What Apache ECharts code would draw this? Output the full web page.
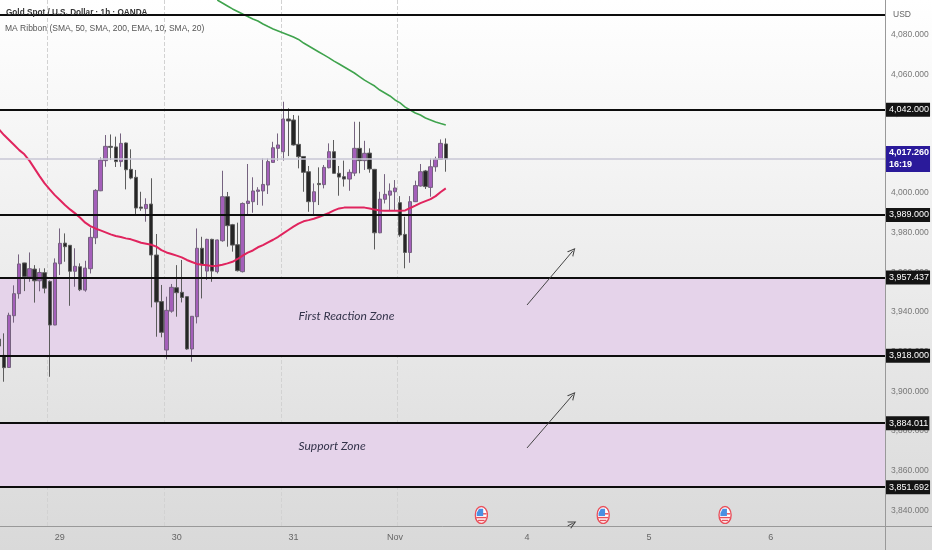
<!DOCTYPE html>
<html><head><meta charset="utf-8">
<style>html,body{margin:0;padding:0;background:#fff}#c{width:932px;height:550px}</style>
<script src="https://cdn.jsdelivr.net/npm/echarts@6/dist/echarts.min.js"></script>
</head><body><div id="c"></div>
<script>
const opens=[3926.4,3918.2,3912.1,3938.2,3949.3,3964.8,3957.7,3961.7,3955.8,3959.9,3955.5,3933.5,3964.4,3974.8,3973.7,3960.6,3962.9,3951.1,3961.9,3977.5,4001.2,4016.4,4023.6,4023.3,4015.9,4025.3,4012,4008,3993,3992.2,3994.5,3968.8,3945.3,3920.9,3940.5,3952.3,3950,3947.8,3921.4,3937.7,3972.2,3960.7,3976.7,3960.4,3976,3998.2,3984.1,3974,3960.4,3994.8,3995.7,4000.9,4001.1,4004.1,4015.5,4022.6,4020.9,4037.4,4036.9,4024.6,4018.5,4010.8,3995.7,4004.9,4004.3,4012.8,4020.9,4010,4008.3,4007.1,4010.1,4022.6,4016.4,4020.2,4012,3980,3996.9,3999,4000.7,3995.2,3979.2,3970.1,3995.7,4003.6,4011.2,4002.9,4013.3,4017,4024.8];
const closes=[3922.9,3912,3938.4,3949.3,3964.3,3958,3961.9,3955.8,3960,3952.1,3933.5,3964.8,3974.7,3973,3960.6,3963.1,3951.3,3962.2,3977.7,4001.4,4016.7,4023.6,4023.1,4015.9,4025.1,4011.8,4007.6,3992.5,3992.4,3994.3,3968.8,3945.1,3929.8,3940.9,3952.5,3949.8,3947.4,3921.4,3937.9,3972.2,3963.9,3976.7,3960.7,3976.4,3998.2,3983.6,3973.8,3960.9,3994.8,3996,4001.1,4001.6,4004.4,4015.9,4022.9,4024.3,4037.4,4036.4,4024.3,4018.4,4010.5,3995.7,4000.7,4004.3,4013,4020.9,4010,4008.1,4007.1,4010.5,4022.6,4016.4,4020.1,4012.2,3980,3997,3999.4,4001.1,4002.6,3978.9,3970.1,3995.7,4003.8,4010.8,4003.3,4013.3,4017.2,4025.1,4017.26];
const lows=[3915,3904.9,3912,3934.7,3946.8,3950.6,3955.3,3944.8,3950.5,3949.5,3907.4,3933.4,3958.7,3965.4,3943.2,3952.8,3950.6,3950.3,3959.5,3974.3,4001,4013.3,4016.7,4013.2,4013.3,4001.9,4007,3989.5,3991.1,3985.6,3942.4,3927.6,3927.3,3916.2,3939.7,3937.7,3944.9,3921,3915,3934.3,3946.9,3956.2,3955.3,3959.5,3975.5,3973,3970.5,3960.5,3960,3988.5,3990.1,3994,3993.7,3999.6,4015.3,4016.4,4016.4,4018.7,4024,4012.5,4000.7,3990.6,3988.5,3994,4002.4,4012.5,4009.9,3998.7,4003.3,4001.2,4008.6,4010,4011.7,4010.3,3971.6,3979.8,3994.8,3991.5,3991.5,3978,3962.1,3964.9,3995.5,4003.3,4002.1,3998.2,4010.8,4016.8,4010.8];
const highs=[3932,3929.3,3939.7,3953.5,3969.1,3964.9,3970.1,3963.7,3962.1,3962.1,3956,3967.1,3982.2,3979.7,3973.8,3972.2,3964.6,3965.9,3982.7,4002,4018,4029.3,4029.6,4028.5,4030.1,4025.5,4022.1,4011.7,4000.7,3997.4,4007.5,3979.4,3953.7,3947.8,3954.2,3963.7,3966.3,3947.9,3938,3982.2,3978,3977,3977,3976.6,4011.3,4000.6,3984.5,3985.1,3995.3,4014.7,4008,4003,4017.5,4017.5,4025.9,4030.1,4046.1,4042.8,4039.4,4039.1,4018.6,4013.7,4004.9,4013,4014.2,4025.1,4026.8,4013.7,4016.4,4012,4036,4036,4026.4,4022.6,4012.2,4000.7,4009.6,4004.9,4006.6,3998.5,3988.1,3998.5,4006.3,4014.7,4011.7,4017.5,4018.4,4027.1,4027.6];
const maRed=[4032.2,4029.3,4026.8,4024.3,4021.7,4019.6,4016.4,4012.5,4008.6,4004.9,4001.9,3999,3996.5,3994,3991.8,3989.8,3987.6,3985.1,3983.4,3982.2,3981.2,3980.2,3979.2,3978.4,3977.9,3977.2,3976.7,3975.9,3975,3974.5,3974,3973,3971.3,3970.1,3969.3,3968.5,3967.6,3966.3,3965.3,3964.3,3963.9,3963.6,3963.2,3963.4,3963.9,3964.6,3965.4,3966.8,3968.5,3970,3971.1,3972.7,3973.8,3975.2,3976.5,3978,3979.7,3981.4,3983.1,3984.6,3985.8,3986.4,3987.1,3988,3989,3990,3991.3,3992.3,3992.7,3992.8,3992.8,3992.8,3992.7,3992.3,3991.7,3991.3,3991.1,3991.1,3991.1,3991.1,3991.3,3992.5,3993.7,3995,3996,3997,3998.5,4000.6,4002.4];
const maGreenStart=43;
const maGreen=[4097.4,4095.9,4094.4,4092.9,4091.6,4090.3,4089.1,4087.8,4086.8,4085.3,4084,4082.8,4081.8,4080.8,4079.8,4078.7,4077.5,4075.7,4074.2,4072.7,4071.2,4069.7,4068.2,4066.6,4065.1,4063.6,4062.1,4060.6,4058.8,4057,4055.5,4054,4052,4050.5,4049,4047,4045.5,4043.4,4041.9,4040.4,4039.4,4037.9,4036.9,4035.9,4035.1,4034.4];
const tagLevels=[4042,3989,3957.437,3918,3884.011,3851.692];
const plainLevels=[4090];
const currentPrice=4017.26;
const countdown='16:19';
const zones=[[3957.437,3918],[3884.011,3851.692]];
const priceTicks=[4080,4060,4040,4020,4000,3980,3960,3940,3920,3900,3880,3860,3840];
const dayIndex=[12,35,58,78,104,128,152];
const dayLabels=['29','30','31','Nov','4','5','6'];
const sessionBreaks=[10,33,56,79];
const slotCount=175;
const notes=[[59,3938,'First Reaction Zone'],[59,3872.5,'Support Zone']];
const flagSlots=[95,119,143];
const flagPrice=3837.7;
const arrows=[[104,3943.6,113,3970.8],[104,3871.5,113,3898.2],[112,3832.2,113,3833.5]];

const SANS='"Liberation Sans",sans-serif';
const cats=Array.from({length:slotCount},(_,i)=>{const p=dayIndex.indexOf(i);return p>=0?dayLabels[p]:' ';});
const fmt=v=>v.toLocaleString('en-US',{minimumFractionDigits:3,maximumFractionDigits:3});
const candles=opens.map((o,i)=>[o,closes[i],lows[i],highs[i]]);
const flagSvg='<svg xmlns="http://www.w3.org/2000/svg" width="30" height="40" viewBox="0 0 30 40"><ellipse cx="15" cy="20" rx="13" ry="18" fill="#fff" stroke="#e8505b" stroke-width="3"/><rect x="4" y="24" width="22" height="3" fill="#e8505b"/><rect x="8" y="30" width="14" height="3" fill="#e8505b"/><rect x="15" y="16" width="11" height="3" fill="#e8505b"/><path d="M5 22 V16 L10 7 H19 V22 Z" fill="#4a90e2"/></svg>';
const flagUri='image://data:image/svg+xml;charset=utf-8,'+encodeURIComponent(flagSvg);
const arrowHead='path://M0,10 L5,0 L10,10 L8.6,10 L5,3 L1.4,10 Z';

const chart=echarts.init(document.getElementById('c'),null,{renderer:'canvas'});
chart.setOption({
  animation:false,
  backgroundColor:new echarts.graphic.LinearGradient(0,0,0,1,[{offset:0,color:'#ffffff'},{offset:1,color:'#d9d9d9'}]),
  title:[
    {text:'Gold Spot / U.S. Dollar · 1h · OANDA',left:6,top:9,padding:0,textStyle:{fontFamily:SANS,fontSize:8.2,fontWeight:'bold',color:'#333'}},
    {text:'MA Ribbon (SMA, 50, SMA, 200, EMA, 10, SMA, 20)',left:5,top:24,padding:0,textStyle:{fontFamily:SANS,fontSize:8.5,fontWeight:'normal',color:'#555'}},
    {text:'USD',left:893,top:10,padding:0,textStyle:{fontFamily:SANS,fontSize:8.5,fontWeight:'normal',color:'#666'}}
  ],
  grid:{left:-3.6,right:47,top:0,bottom:24,containLabel:false,outerBoundsMode:'none'},
  xAxis:{type:'category',data:cats,boundaryGap:true,
    axisLine:{show:true,onZero:false,lineStyle:{color:'#999',width:1}},
    axisTick:{show:false},
    axisLabel:{interval:0,margin:7,hideOverlap:false,fontFamily:SANS,fontSize:9,color:'#666'},
    splitLine:{show:true,interval:(i)=>sessionBreaks.includes(i),lineStyle:{color:'#d2d2d2',type:'dashed',width:1}}},
  yAxis:{type:'value',position:'right',min:3832.15,max:4097.4,scale:true,
    axisLine:{show:true,onZero:false,lineStyle:{color:'#999',width:1}},
    axisTick:{show:false},splitLine:{show:false},
    axisLabel:{customValues:priceTicks,margin:6,fontFamily:SANS,fontSize:8.5,color:'#777',formatter:fmt}},
  graphic:[
    {type:'line',silent:true,shape:{x1:885,y1:526.5,x2:932,y2:526.5},style:{stroke:'#999',lineWidth:1}},
    {type:'line',silent:true,shape:{x1:885.5,y1:526,x2:885.5,y2:550},style:{stroke:'#999',lineWidth:1}}
  ],
  series:[
    {name:'levels',type:'line',z:1,data:[],silent:true,
     markArea:{silent:true,itemStyle:{color:'#e5d3ea'},data:zones.map(z=>[{yAxis:z[0]},{yAxis:z[1]}])},
     markLine:{silent:true,symbol:'none',precision:3,animation:false,data:[
       ...plainLevels.map(v=>({yAxis:v,lineStyle:{color:'#0d0d0d',width:1.8,type:'solid'},label:{show:false}})),
       {yAxis:currentPrice,lineStyle:{color:'#c9c7d6',width:1.5,type:'solid'},
        label:{show:true,position:'end',distance:1,formatter:fmt(currentPrice)+'\n'+countdown,backgroundColor:'#2a1a9a',color:'#fff',fontFamily:SANS,fontSize:9,lineHeight:12,padding:[1,1,1,3],fontWeight:'bold'}},
       ...tagLevels.map(v=>({yAxis:v,lineStyle:{color:'#0d0d0d',width:1.8,type:'solid'},
        label:{show:true,position:'end',distance:1,formatter:fmt(v),backgroundColor:'#141414',color:'#fff',fontFamily:SANS,fontSize:9,lineHeight:12,padding:[1,1,1,3]}}))
     ]},
     markPoint:{silent:true,symbolSize:0,data:notes.map(n=>({coord:[n[0],n[1]],symbol:'circle',symbolSize:0,
        label:{show:true,position:'right',distance:0,formatter:n[2],fontFamily:'Lato,"Noto Sans",sans-serif',fontStyle:'italic',fontSize:12,color:'#33334a'}}))}},
    {name:'OHLC',type:'candlestick',z:2,data:candles,barWidth:3.9,
     itemStyle:{color:'#a45fba',color0:'#262626',borderColor:'#75627f',borderColor0:'#5c5c5c',borderWidth:1}},
    {name:'EMA',type:'line',z:3,data:maRed,showSymbol:false,symbol:'none',smooth:false,lineStyle:{color:'#e0245e',width:2}},
    {name:'SMA',type:'line',z:3,data:maGreen.map((v,i)=>[i+maGreenStart,v]),showSymbol:false,symbol:'none',lineStyle:{color:'#3fa34d',width:1.6}},
    {name:'arrows',type:'line',z:3,data:[],silent:true,
     markLine:{silent:true,symbol:['none',arrowHead],symbolSize:[8,8],label:{show:false},lineStyle:{color:'#444',width:1,type:'solid'},
       data:arrows.map(a=>[{coord:[a[0],a[1]]},{coord:[a[2],a[3]]}])}},
    {name:'events',type:'line',z:4,data:[],silent:true,
     markPoint:{silent:true,data:flagSlots.map(k=>({coord:[k,flagPrice],symbol:flagUri,symbolSize:[14,19]})),label:{show:false}}}
  ]
});
</script></body></html>
